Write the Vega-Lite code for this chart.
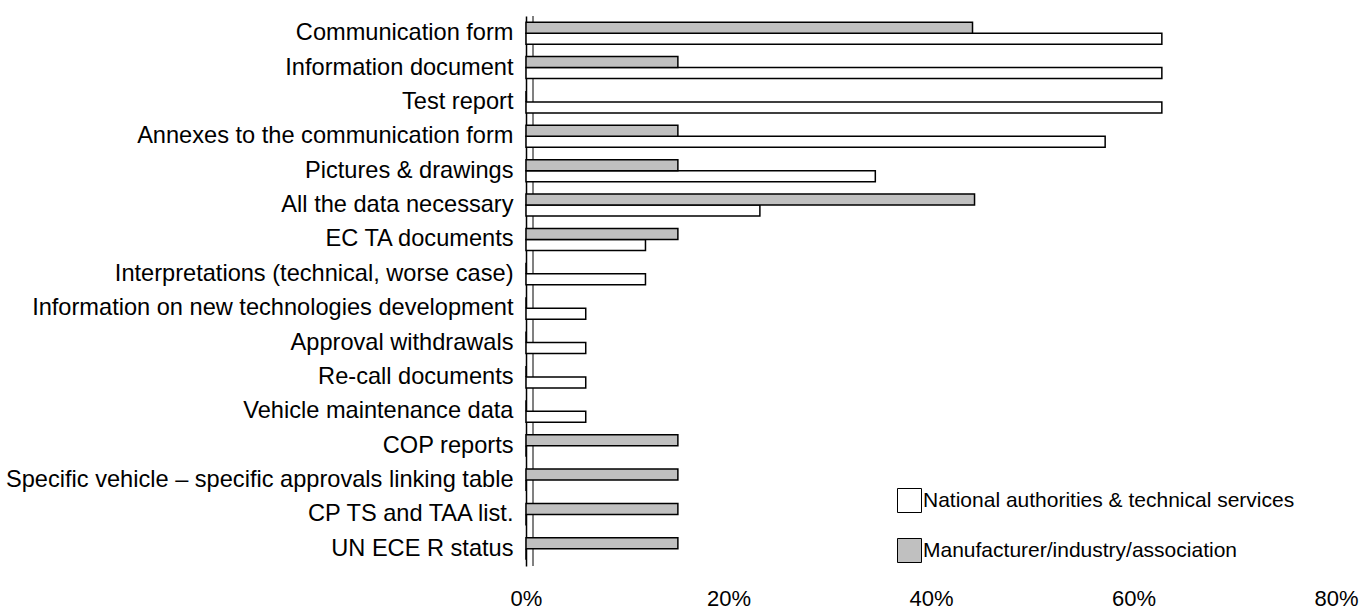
{
  "$schema": "https://vega.github.io/schema/vega-lite/v6.json",
  "autosize": {"type": "none"},
  "width": 810,
  "height": 550,
  "padding": {"left": 526, "top": 16, "right": 29, "bottom": 46},
  "background": "white",
  "config": {
    "view": {"stroke": null},
    "font": "Liberation Sans",
    "axis": {"labelFont": "Liberation Sans", "labelColor": "black", "grid": false, "ticks": false, "tickSize": 0}
  },
  "data": {
    "values": [
      {"category": "Communication form", "series": "National authorities & technical services", "value": 62.8},
      {"category": "Communication form", "series": "Manufacturer/industry/association", "value": 44.1},
      {"category": "Information document", "series": "National authorities & technical services", "value": 62.8},
      {"category": "Information document", "series": "Manufacturer/industry/association", "value": 15.0},
      {"category": "Test report", "series": "National authorities & technical services", "value": 62.8},
      {"category": "Test report", "series": "Manufacturer/industry/association", "value": 0},
      {"category": "Annexes to the communication form", "series": "National authorities & technical services", "value": 57.2},
      {"category": "Annexes to the communication form", "series": "Manufacturer/industry/association", "value": 15.0},
      {"category": "Pictures & drawings", "series": "National authorities & technical services", "value": 34.5},
      {"category": "Pictures & drawings", "series": "Manufacturer/industry/association", "value": 15.0},
      {"category": "All the data necessary", "series": "National authorities & technical services", "value": 23.1},
      {"category": "All the data necessary", "series": "Manufacturer/industry/association", "value": 44.3},
      {"category": "EC TA documents", "series": "National authorities & technical services", "value": 11.8},
      {"category": "EC TA documents", "series": "Manufacturer/industry/association", "value": 15.0},
      {"category": "Interpretations (technical, worse case)", "series": "National authorities & technical services", "value": 11.8},
      {"category": "Interpretations (technical, worse case)", "series": "Manufacturer/industry/association", "value": 0},
      {"category": "Information on new technologies development", "series": "National authorities & technical services", "value": 5.9},
      {"category": "Information on new technologies development", "series": "Manufacturer/industry/association", "value": 0},
      {"category": "Approval withdrawals", "series": "National authorities & technical services", "value": 5.9},
      {"category": "Approval withdrawals", "series": "Manufacturer/industry/association", "value": 0},
      {"category": "Re-call documents", "series": "National authorities & technical services", "value": 5.9},
      {"category": "Re-call documents", "series": "Manufacturer/industry/association", "value": 0},
      {"category": "Vehicle maintenance data", "series": "National authorities & technical services", "value": 5.9},
      {"category": "Vehicle maintenance data", "series": "Manufacturer/industry/association", "value": 0},
      {"category": "COP reports", "series": "National authorities & technical services", "value": 0},
      {"category": "COP reports", "series": "Manufacturer/industry/association", "value": 15.0},
      {"category": "Specific vehicle – specific approvals linking table", "series": "National authorities & technical services", "value": 0},
      {"category": "Specific vehicle – specific approvals linking table", "series": "Manufacturer/industry/association", "value": 15.0},
      {"category": "CP TS and TAA list.", "series": "National authorities & technical services", "value": 0},
      {"category": "CP TS and TAA list.", "series": "Manufacturer/industry/association", "value": 15.0},
      {"category": "UN ECE R status", "series": "National authorities & technical services", "value": 0},
      {"category": "UN ECE R status", "series": "Manufacturer/industry/association", "value": 15.0}
    ]
  },
  "layer": [
    {
      "mark": {"type": "rule", "color": "#808080", "strokeWidth": 1, "xOffset": 7},
      "encoding": {"x": {"datum": 0, "type": "quantitative"}}
    },
    {
      "mark": {"type": "bar", "stroke": "black", "strokeWidth": 1.5},
      "encoding": {
        "y": {
          "field": "category",
          "type": "nominal",
          "sort": null,
          "scale": {"paddingInner": 0.36, "paddingOuter": 0.18},
          "axis": {
            "title": null,
            "labelFontSize": 23.6,
            "labelLimit": 0,
            "labelPadding": 13,
            "domain": true,
            "domainColor": "black",
            "domainWidth": 1.5
          }
        },
        "yOffset": {
          "field": "series",
          "type": "nominal",
          "scale": {"domain": ["Manufacturer/industry/association", "National authorities & technical services"]}
        },
        "x": {
          "field": "value",
          "type": "quantitative",
          "scale": {"domain": [0, 80], "nice": false},
          "axis": {
            "title": null,
            "values": [0, 20, 40, 60, 80],
            "labelExpr": "datum.value + '%'",
            "labelFontSize": 22,
            "labelPadding": 22,
            "labelFlush": false,
            "domain": false
          }
        },
        "color": {
          "field": "series",
          "type": "nominal",
          "scale": {
            "domain": ["National authorities & technical services", "Manufacturer/industry/association"],
            "range": ["#ffffff", "#c0c0c0"]
          },
          "legend": {
            "title": null,
            "orient": "none",
            "legendX": 371,
            "legendY": 472,
            "padding": 0,
            "symbolType": "square",
            "symbolSize": 576,
            "symbolStrokeColor": "black",
            "symbolStrokeWidth": 1,
            "symbolOpacity": 1,
            "labelFont": "Liberation Sans",
            "labelFontSize": 21,
            "labelColor": "black",
            "labelOffset": 1,
            "labelLimit": 0,
            "rowPadding": 21
          }
        }
      }
    }
  ]
}
